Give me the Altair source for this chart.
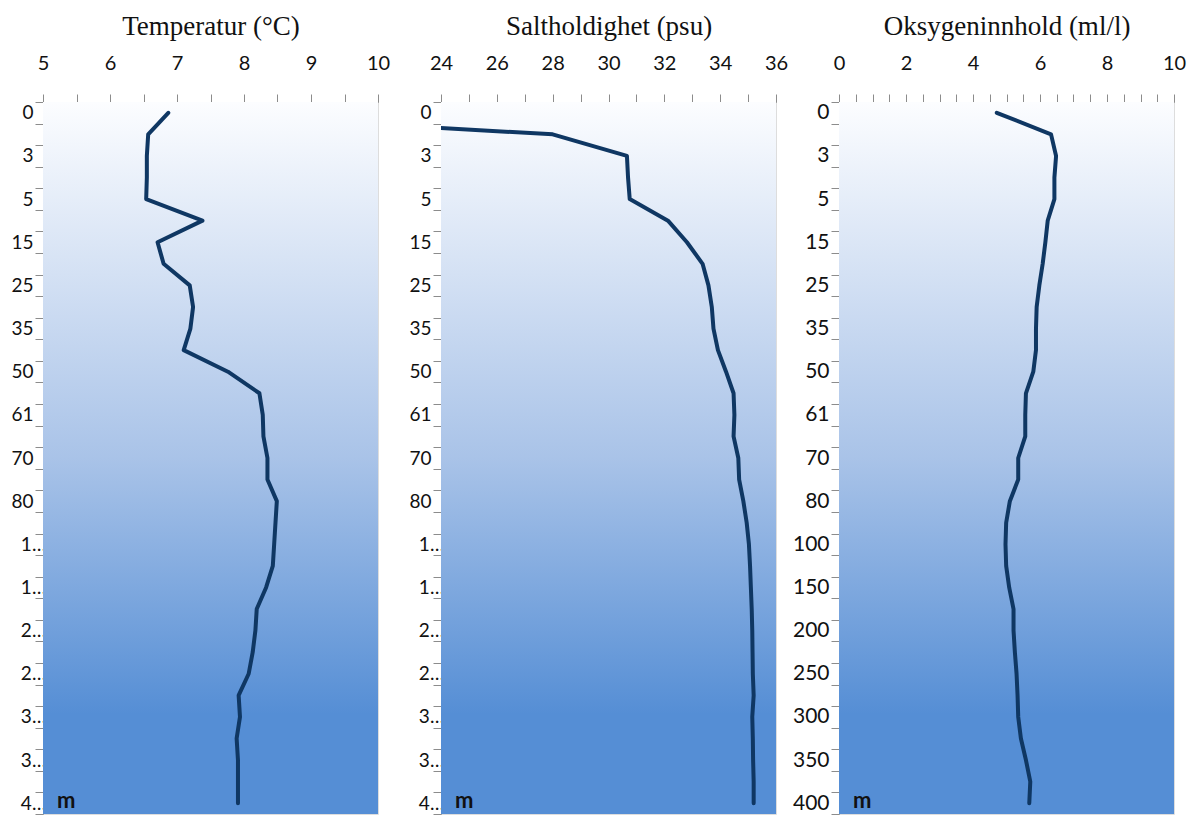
import altair as alt
import pandas as pd

# Depth categories (every other one is labelled on the axis)
depth = ["0", "2", "3", "4", "5", "10", "15", "20", "25", "30", "35", "40",
         "50", "55", "61", "65", "70", "75", "80", "90", "100", "125", "150",
         "175", "200", "225", "250", "275", "300", "325", "350", "375", "400"]
shown = ["0", "3", "5", "15", "25", "35", "50", "61", "70", "80", "100",
         "150", "200", "250", "300", "350", "400"]

temperature = [6.87, 6.57, 6.55, 6.55, 6.54, 7.38, 6.71, 6.80, 7.19, 7.24,
               7.20, 7.10, 7.76, 8.23, 8.28, 8.29, 8.35, 8.35, 8.49, 8.47,
               8.45, 8.43, 8.33, 8.19, 8.17, 8.13, 8.07, 7.92, 7.94, 7.89,
               7.91, 7.91, 7.91]
salinity = [14.3, 28.0, 30.66, 30.70, 30.76, 32.13, 32.81, 33.37, 33.58,
            33.70, 33.76, 33.92, 34.21, 34.48, 34.51, 34.48, 34.65, 34.68,
            34.83, 34.95, 35.03, 35.07, 35.10, 35.13, 35.15, 35.16, 35.17,
            35.20, 35.15, 35.17, 35.18, 35.20, 35.20]
oxygen = [4.71, 6.33, 6.48, 6.43, 6.43, 6.23, 6.16, 6.08, 5.98, 5.90, 5.88,
          5.88, 5.80, 5.58, 5.56, 5.56, 5.35, 5.35, 5.10, 4.99, 4.97, 4.99,
          5.08, 5.21, 5.21, 5.25, 5.30, 5.33, 5.35, 5.43, 5.58, 5.71, 5.68]

titles = ["Temperatur (°C)", "Saltholdighet (psu)", "Oksygeninnhold (ml/l)"]
temp_ticks = [5 + 0.5 * i for i in range(11)]
temp_labels = [5, 6, 7, 8, 9, 10]
sal_ticks = list(range(24, 37))
sal_labels = [24, 26, 28, 30, 32, 34, 36]
oxy_ticks = [0.5 * i for i in range(21)]
oxy_labels = [0, 2, 4, 6, 8, 10]

W, H = 335, 712
LINE = "#0f3763"
GREY = "#8c8c8c"

gradient = alt.LinearGradient(
    gradient="linear",
    stops=[alt.GradientStop(color="#fcfdff", offset=0),
           alt.GradientStop(color="#a9c3e8", offset=0.5),
           alt.GradientStop(color="#558ed5", offset=0.86),
           alt.GradientStop(color="#558ed5", offset=1)],
    x1=0, x2=0, y1=0, y2=1)


def panel(values, title, dom, ticks, labels, truncate, ylab_size):
    df = pd.DataFrame({"Dybde": depth, "verdi": values,
                       "i": list(range(len(depth)))})
    shown_arr = "[" + ",".join(f"'{s}'" for s in shown) + "]"
    if truncate:
        inner = "length(datum.label) > 2 ? slice(datum.label, 0, 1) + '…' : datum.label"
        lab_align = {"condition": {"test": "length(datum.label) > 2",
                                   "value": "center"},
                     "value": "right"}
    else:
        inner = "datum.label"
        lab_align = "right"
    yexpr = f"indexof({shown_arr}, datum.label) < 0 ? '' : ({inner})"
    lab_arr = "[" + ",".join(str(v) for v in labels) + "]"
    xexpr = f"indexof({lab_arr}, datum.value) < 0 ? '' : format(datum.value, 'd')"

    bg = alt.Chart(pd.DataFrame({"b": [0]})).mark_rect(
        fill=gradient, stroke=None).encode(
        x=alt.value(0), x2=alt.value(W), y=alt.value(0), y2=alt.value(H))

    line = alt.Chart(df).mark_line(
        color=LINE, strokeWidth=4, clip=True,
        strokeJoin="round", strokeCap="round").encode(
        x=alt.X("verdi:Q",
                scale=alt.Scale(domain=dom, nice=False, zero=False),
                axis=alt.Axis(orient="top", values=ticks, labelExpr=xexpr,
                              title=title, grid=False,
                              domainColor=GREY, tickColor=GREY, tickSize=8,
                              labelFont="Lato", labelFontSize=20,
                              labelColor="#111", labelPadding=21,
                              labelFlush=False, labelOverlap=False,
                              titleFont="Liberation Serif", titleFontSize=27,
                              titleFontWeight="normal", titleColor="#111",
                              titlePadding=13)),
        y=alt.Y("Dybde:N", sort=depth,
                scale=alt.Scale(type="band", paddingInner=0, paddingOuter=0),
                axis=alt.Axis(tickBand="extent", labelExpr=yexpr, title=None,
                              grid=False, domainColor=GREY, tickColor=GREY,
                              tickSize=8, labelPadding=2, labelFont="Lato",
                              labelFontSize=ylab_size, labelColor="#111",
                              labelOverlap=False, labelAlign=lab_align)),
        order=alt.Order("i:Q"))

    m = alt.Chart(pd.DataFrame({"t": ["m"]})).mark_text(
        font="Lato", fontWeight="bold", fontSize=22, color="#111",
        align="left", baseline="alphabetic").encode(
        text="t:N", x=alt.value(14), y=alt.value(H - 6))

    return alt.layer(bg, line, m).properties(width=W, height=H)


p1 = panel(temperature, titles[0], [5, 10], temp_ticks, temp_labels, True, 19)
p2 = panel(salinity, titles[1], [24, 36], sal_ticks, sal_labels, True, 19)
p3 = panel(oxygen, titles[2], [0, 10], oxy_ticks, oxy_labels, False, 21)

chart = alt.hconcat(p1, p2, p3, spacing=63, bounds="flush").properties(
    padding={"left": 2, "top": 3, "right": 0, "bottom": 0}
).configure_view(stroke=None).configure(background="white")

chart.save("out.html", embed_options={"renderer": "svg", "actions": False})
